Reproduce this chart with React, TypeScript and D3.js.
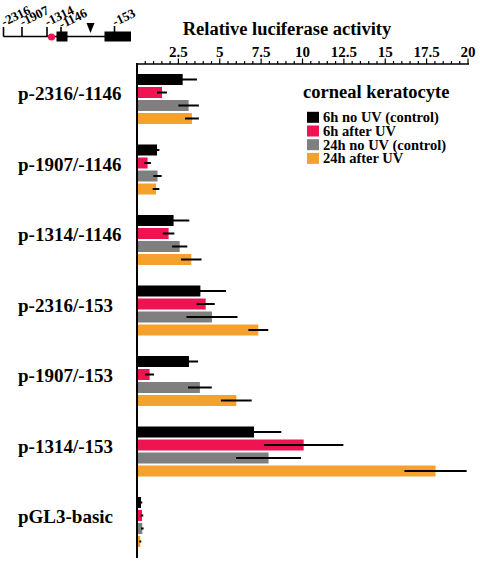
import React from "react";
import * as d3 from "d3";

const groups = ["p-2316/-1146", "p-1907/-1146", "p-1314/-1146", "p-2316/-153", "p-1907/-153", "p-1314/-153", "pGL3-basic"];
const seriesNames = ["6h no UV (control)", "6h after UV", "24h no UV (control)", "24h after UV"];
const seriesColors = ["#000000", "#ef1352", "#7f7f7f", "#f4a12e"];

const v6hNoUV = [2.76, 1.21, 2.21, 3.83, 3.14, 7.07, 0.24];
const e6hNoUV = [0.86, 0.14, 0.95, 1.55, 0.55, 1.65, 0.08];
const v6hUV = [1.51, 0.64, 1.91, 4.15, 0.76, 10.07, 0.3];
const e6hUV = [0.3, 0.2, 0.35, 0.55, 0.27, 2.4, 0.08];
const v24hNoUV = [3.12, 1.24, 2.58, 4.53, 3.8, 7.95, 0.32];
const e24hNoUV = [0.62, 0.25, 0.46, 1.54, 0.72, 1.96, 0.08];
const v24hUV = [3.32, 1.15, 3.28, 7.33, 6.0, 18.04, 0.2];
const e24hUV = [0.42, 0.2, 0.62, 0.6, 0.93, 1.88, 0.06];

const seriesValues = [v6hNoUV, v6hUV, v24hNoUV, v24hUV];
const seriesErrors = [e6hNoUV, e6hUV, e24hNoUV, e24hUV];

const tickValues = [2.5, 5, 7.5, 10, 12.5, 15, 17.5, 20];
const tickLabels = ["2.5", "5", "7.5", "10", "12.5", "15", "17.5", "20"];

const geneMarks = ["-2316", "-1907", "-1314", "-1146", "-153"];
const geneMarkX = [3.5, 22, 47, 61, 114.5];

const FONT = "'Liberation Serif', 'Times New Roman', serif";

export default function App() {
  const x = d3.scaleLinear().domain([0, 20]).range([137, 468]);
  const y0 = d3.scaleBand<string>().domain(groups).range([74, 547]).paddingInner(20.5 / 70.5).paddingOuter(0);
  const y1 = d3.scaleBand<string>().domain(seriesNames).range([0, y0.bandwidth()]).paddingInner(2 / 13).paddingOuter(0);
  const axisY = 64;
  const minorTicks = d3.range(0.5, 20.01, 0.5);

  return (
    <svg width={480} height={564} style={{ position: "absolute", left: 0, top: 0, background: "#fff" }} fontFamily={FONT}>
      {/* gene diagram */}
      <g>
        <line x1={3.5} x2={131} y1={36.5} y2={36.5} stroke="#000" strokeWidth={1.6} />
        {[0, 1, 2].map((i) => (
          <line key={i} x1={geneMarkX[i]} x2={geneMarkX[i]} y1={27} y2={36.5} stroke="#000" strokeWidth={1.6} />
        ))}
        <rect x={56.5} y={31.5} width={11} height={10} fill="#000" />
        <line x1={61} x2={61} y1={27} y2={32} stroke="#000" strokeWidth={1.6} />
        <circle cx={51.5} cy={37} r={3.6} fill="#ef1352" />
        <path d="M86.5,23 L94.5,23 L90.5,33 Z" fill="#000" />
        <rect x={104.5} y={31.5} width={26.5} height={10} fill="#000" />
        <line x1={114.5} x2={114.5} y1={26} y2={32} stroke="#000" strokeWidth={1.6} />
        {geneMarks.map((t, i) => (
          <text key={t} x={0} y={0} fontSize={13} fontWeight="bold" transform={`translate(${geneMarkX[i] + 0.5},${i === 3 ? 29 : 26.5}) rotate(-26)`}>
            {t}
          </text>
        ))}
      </g>

      {/* axis title */}
      <text x={287} y={35} textAnchor="middle" fontSize={18.5} fontWeight="bold">Relative luciferase activity</text>

      {/* top axis */}
      <line x1={x(0)} x2={x(20) + 1} y1={axisY} y2={axisY} stroke="#000" strokeWidth={1.5} />
      {minorTicks.map((t) => {
        const major = Math.abs(t / 2.5 - Math.round(t / 2.5)) < 1e-6;
        return (
          <line key={t} x1={x(t)} x2={x(t)} y1={axisY} y2={major ? axisY - 5.5 : axisY - 3} stroke="#000" strokeWidth={1.2} />
        );
      })}
      {tickValues.map((t, i) => (
        <text key={t} x={x(t)} y={57} textAnchor="middle" fontSize={15} fontWeight="bold">{tickLabels[i]}</text>
      ))}
      <line x1={x(0)} x2={x(0)} y1={axisY - 1} y2={558} stroke="#000" strokeWidth={2} />

      {/* bars */}
      {groups.map((g, gi) => (
        <g key={g} transform={`translate(0,${y0(g)})`}>
          {seriesNames.map((s, si) => {
            const v = seriesValues[si][gi];
            const e = seriesErrors[si][gi];
            const yy = y1(s)!;
            const h = y1.bandwidth();
            return (
              <g key={s}>
                <rect x={x(0) + 1} y={yy} width={x(v) - x(0) - 1} height={h} fill={seriesColors[si]} />
                <line x1={x(Math.max(0, v - e))} x2={x(v + e)} y1={yy + h / 2} y2={yy + h / 2} stroke="#000" strokeWidth={2} />
              </g>
            );
          })}
          <text x={18} y={y0.bandwidth() / 2 + 1} fontSize={19} fontWeight="bold">{g}</text>
        </g>
      ))}

      {/* legend */}
      <text x={303} y={98} fontSize={18.5} fontWeight="bold">corneal keratocyte</text>
      {seriesNames.map((s, i) => (
        <g key={s} transform={`translate(307,${117.3 + i * 13.7})`}>
          <rect x={0} y={-5.5} width={12} height={11} fill={seriesColors[i]} />
          <text x={16} y={5} fontSize={14.5} fontWeight="bold">{s}</text>
        </g>
      ))}
    </svg>
  );
}
